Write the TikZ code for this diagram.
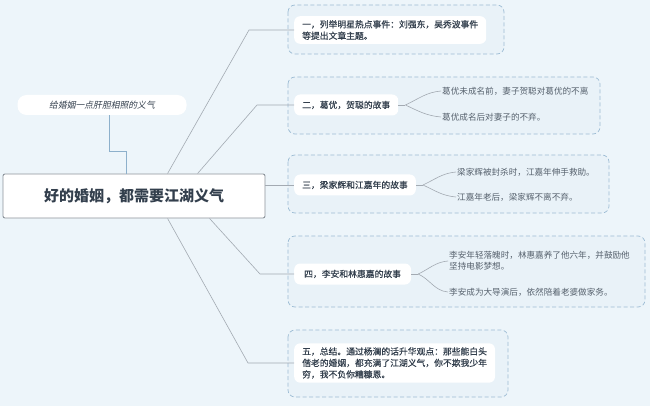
\documentclass[tikz,border=0pt]{standalone}
\usepackage{fontspec}
\setmainfont{Noto Sans CJK SC}
\newfontfamily\slantfont[FakeSlant=0.2]{Noto Sans CJK SC}
\newfontfamily\topicfont[FakeBold=0.5]{Noto Sans CJK SC}
\usetikzlibrary{calc,positioning}

\definecolor{bgcol}{HTML}{EDF5FA}
\definecolor{grpfill}{HTML}{E9F2F8}
\definecolor{grpline}{HTML}{9DBCD4}
\definecolor{txtdark}{HTML}{333F4D}
\definecolor{txtleaf}{HTML}{56616D}
\definecolor{linecol}{HTML}{A3AAB2}
\definecolor{subline}{HTML}{8DB0CB}
\definecolor{mainline}{HTML}{8C939A}

\tikzset{
  mainbox/.style={draw=mainline, line width=0.9pt, fill=white, rounded corners=2pt,
    minimum width=262, minimum height=44, font=\fontsize{15}{18}\selectfont\bfseries, text=txtdark},
  subbox/.style={fill=white, rounded corners=9pt, minimum width=169, minimum height=20,
    font=\slantfont\fontsize{8.8}{11}\selectfont, text=txtdark},
  grpbox/.style={draw=grpline, fill=grpfill, line width=0.7pt, dash pattern=on 4pt off 2.5pt, rounded corners=7pt},
  topic/.style={fill=white, rounded corners=6pt, anchor=west, align=left, inner xsep=8, inner ysep=4,
    minimum height=21, font=\topicfont\fontsize{8.8}{11.5}\selectfont, text=txtdark},
  leaf/.style={anchor=west, align=left, inner sep=1, font=\fontsize{8.6}{11}\selectfont, text=txtleaf},
  branch/.style={draw=linecol, line width=0.6pt},
  twig/.style={draw=linecol, line width=0.6pt}
}

\begin{document}
\begin{tikzpicture}[x=1pt,y=-1pt]
 \fill[bgcol] (0,0) rectangle (650,406);

 % groups
 \draw[grpbox] (288,5) rectangle (504,54);
 \draw[grpbox] (288,77) rectangle (600,134);
 \draw[grpbox] (288,155) rectangle (609,213);
 \draw[grpbox] (288,236) rectangle (645,307);
 \draw[grpbox] (288,330) rectangle (508,397);

 % centre and summary
 \node[mainbox] (main) at (134,196) {好的婚姻，都需要江湖义气};
 \node[subbox] (lbl) at (102,105) {给婚姻一点肝胆相照的义气};
 \draw[subline, line width=0.7pt] ([xshift=7]lbl.south) -- ++(0,36) -| ([xshift=-8]main.north);

 % topics
 \node[topic] (t1) at (294,30) {一，列举明星热点事件：刘强东，吴秀波事件\\等提出文章主题。};
 \node[topic] (t2) at (294,105) {二，葛优，贺聪的故事};
 \node[topic] (t3) at (294,185) {三，梁家辉和江嘉年的故事};
 \node[topic, inner xsep=10] (t4) at (294,274) {四，李安和林惠嘉的故事};
 \node[topic] (t5) at (294,363) {五，总结。通过杨澜的话升华观点：那些能白头\\偕老的婚姻，都充满了江湖义气，你不欺我少年\\穷，我不负你糟糠恩。};

 % leaves
 \node[leaf] (l2a) at (441,91) {葛优未成名前，妻子贺聪对葛优的不离};
 \node[leaf] (l2b) at (441,117) {葛优成名后对妻子的不弃。};
 \node[leaf] (l3a) at (456,172) {梁家辉被封杀时，江嘉年伸手救助。};
 \node[leaf] (l3b) at (456,197) {江嘉年老后，梁家辉不离不弃。};
 \node[leaf] (l4a) at (448,261) {李安年轻落魄时，林惠嘉养了他六年，并鼓励他\\坚持电影梦想。};
 \node[leaf] (l4b) at (448,292) {李安成为大导演后，依然陪着老婆做家务。};

 % main branches
 \draw[branch] ([xshift=165]main.north west) -- (t1.west -| 249,0) -- (t1.west);
 \draw[branch] ([xshift=195]main.north west) -- (t2.west -| 257,0) -- (t2.west);
 \draw[branch] (main.east |- t3.west) -- (t3.west);
 \draw[branch] ([xshift=207]main.south west) -- (t4.west -| 260,0) -- (t4.west);
 \draw[branch] ([xshift=165]main.south west) -- (t5.west -| 248,0) -- (t5.west);

 % forks to leaves
 \draw[twig] (t2.east) -- ++(7,0) coordinate (f2);
 \draw[twig] (f2) to[out=25,in=185] (l2a.west);
 \draw[twig] (f2) to[out=-25,in=175] (l2b.west);
 \draw[twig] (t3.east) -- ++(7,0) coordinate (f3);
 \draw[twig] (f3) to[out=25,in=185] (l3a.west);
 \draw[twig] (f3) to[out=-25,in=175] (l3b.west);
 \draw[twig] (t4.east) -- ++(7,0) coordinate (f4);
 \draw[twig] (f4) to[out=25,in=185] (l4a.west);
 \draw[twig] (f4) to[out=-25,in=175] (l4b.west);

\end{tikzpicture}
\end{document}
